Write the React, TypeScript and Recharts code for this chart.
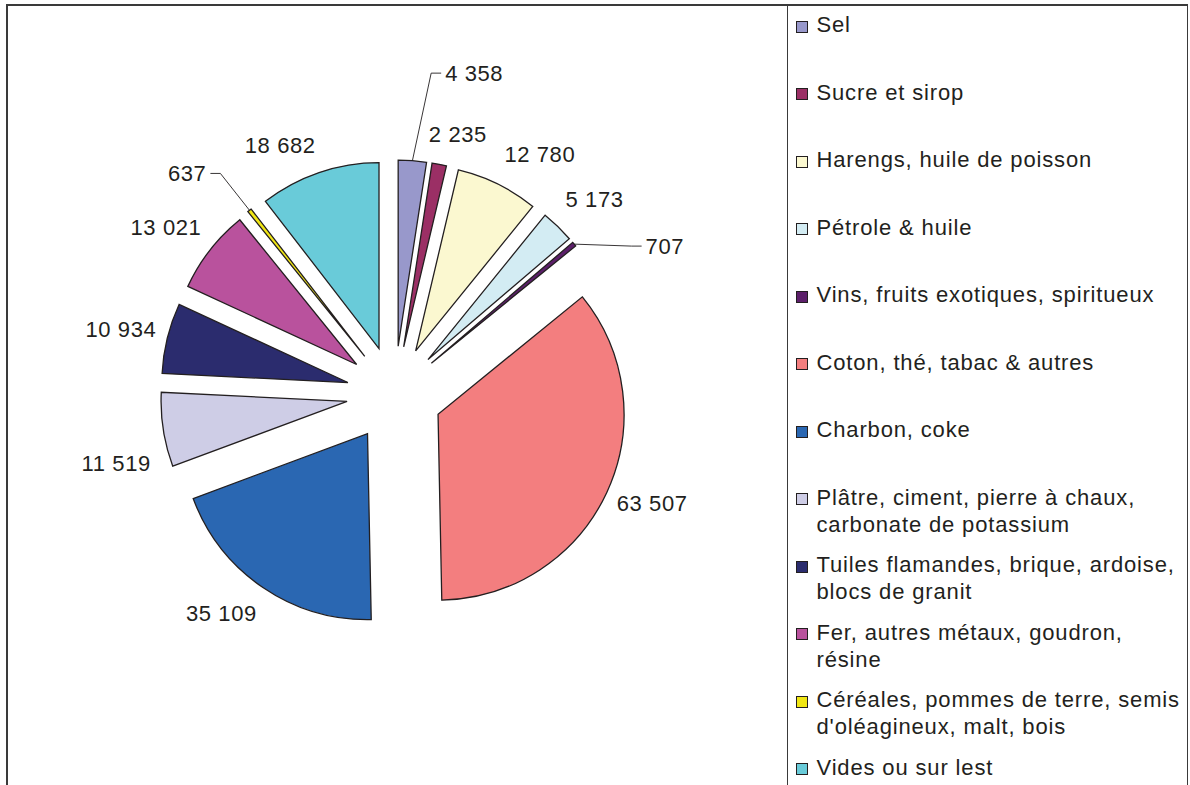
import React from 'react';
import { PieChart, Pie, Sector } from 'recharts';

// ---- data ----
const legendLines: string[][] = [
  ['Sel'],
  ['Sucre et sirop'],
  ['Harengs, huile de poisson'],
  ['Pétrole & huile'],
  ['Vins, fruits exotiques, spiritueux'],
  ['Coton, thé, tabac & autres'],
  ['Charbon, coke'],
  ['Plâtre, ciment, pierre à chaux,', 'carbonate de potassium'],
  ['Tuiles flamandes, brique, ardoise,', 'blocs de granit'],
  ['Fer, autres métaux, goudron,', 'résine'],
  ['Céréales, pommes de terre, semis', "d'oléagineux, malt, bois"],
  ['Vides ou sur lest'],
];
const categories = legendLines.map((l) => l.join(' '));
const tonnages = [4358, 2235, 12780, 5173, 707, 63507, 35109, 11519, 10934, 13021, 637, 18682];
const colors = [
  '#9898CB', '#9B2F65', '#FBF8D0', '#D3ECF3', '#5C1F6A', '#F37E7F',
  '#2A67B2', '#CECDE6', '#2B2C6E', '#B9529D', '#F0E614', '#69CBD9',
];

// ---- label layout (style) ----
const LABEL_ANGLE_SHIFT = [2.5, 3.3, 6.2, 1.9, 9.5, -2.2, 4.8, -6.2, -0.75, -2.35, 0, -7.1];
const LABEL_RADIUS = [275, 219, 232, 231, 232, 232, 232, 239, 233, 234.5, 233, 226];
const LABEL_LEADER = [true, false, false, false, true, false, false, false, false, false, true, false];

const EXPLODE = 48;
const RADIUS = 186;
const INK = '#231F20';
const FONT = "'Liberation Sans', Arial, Helvetica, sans-serif";
const RAD = Math.PI / 180;

const data = categories.map((name, i) => ({ name, value: tonnages[i] }));

const formatValue = (v: number) => String(v).replace(/\B(?=(\d{3})+(?!\d))/g, ' ');

const polar = (cx: number, cy: number, r: number, a: number) => ({
  x: cx + r * Math.cos(a * RAD),
  y: cy - r * Math.sin(a * RAD),
});

const renderSlice = (props: any) => {
  const { cx, cy, midAngle, startAngle, endAngle, outerRadius, index, value } = props;
  const sc = polar(cx, cy, EXPLODE, midAngle);
  const ang = midAngle - LABEL_ANGLE_SHIFT[index];
  const p = polar(sc.x, sc.y, LABEL_RADIUS[index], ang);
  const text = formatValue(value);
  let label: React.ReactNode;
  if (LABEL_LEADER[index]) {
    const a = polar(sc.x, sc.y, outerRadius, midAngle);
    const right = Math.cos(ang * RAD) >= 0;
    const tail = right ? 10 : -10;
    const tx = p.x + tail + (right ? 4 : -4);
    label = (
      <g>
        <polyline
          points={`${a.x},${a.y} ${p.x},${p.y} ${p.x + tail},${p.y}`}
          fill="none"
          stroke={INK}
          strokeWidth={0.9}
        />
        <text
          x={tx}
          y={p.y}
          textAnchor={right ? 'start' : 'end'}
          dominantBaseline="central"
          fontFamily={FONT}
          fontSize={22}
          letterSpacing={0.6}
          fill={INK}
        >
          {text}
        </text>
      </g>
    );
  } else {
    label = (
      <text
        x={p.x}
        y={p.y}
        textAnchor="middle"
        dominantBaseline="central"
        fontFamily={FONT}
        fontSize={22}
        letterSpacing={0.6}
        fill={INK}
      >
        {text}
      </text>
    );
  }
  return (
    <g>
      <Sector
        cx={sc.x}
        cy={sc.y}
        innerRadius={0}
        outerRadius={outerRadius}
        startAngle={startAngle}
        endAngle={endAngle}
        fill={colors[index]}
        stroke={INK}
        strokeWidth={1.3}
      />
      {label}
    </g>
  );
};

const BORDER = '#3a3a3a';

export default function App() {
  return (
    <div
      style={{
        position: 'fixed',
        left: 0,
        top: 0,
        width: 1190,
        height: 785,
        overflow: 'hidden',
        background: '#ffffff',
        fontFamily: FONT,
      }}
    >
      <div style={{ position: 'absolute', left: 6, top: 4, width: 1182, height: 1.5, background: BORDER }} />
      <div style={{ position: 'absolute', left: 6, top: 4, width: 1.5, height: 790, background: BORDER }} />
      <div style={{ position: 'absolute', left: 1186.5, top: 4, width: 1.5, height: 790, background: BORDER }} />
      <div style={{ position: 'absolute', left: 786.5, top: 4, width: 1.5, height: 790, background: BORDER }} />

      <div style={{ position: 'absolute', left: 0, top: 0 }}>
        <PieChart width={787} height={785} margin={{ top: 0, right: 0, bottom: 0, left: 0 }}>
          <Pie
            data={data}
            dataKey="value"
            nameKey="name"
            cx={394.5}
            cy={394}
            innerRadius={0}
            outerRadius={RADIUS}
            startAngle={90}
            endAngle={-270}
            fill="none"
            stroke="none"
            label={renderSlice}
            labelLine={false}
            isAnimationActive={false}
          />
        </PieChart>
      </div>

      {legendLines.map((lines, i) => {
        const baseline = 32.3 + 67.5 * i;
        return (
          <React.Fragment key={categories[i]}>
            <div
              style={{
                position: 'absolute',
                left: 796,
                top: baseline - 11.8,
                width: 12,
                height: 12,
                boxSizing: 'border-box',
                border: `1.3px solid ${INK}`,
                background: colors[i],
              }}
            />
            <div
              style={{
                position: 'absolute',
                left: 816.5,
                top: baseline - 21.1,
                fontSize: 22,
                lineHeight: '27px',
                letterSpacing: 0.85,
                color: INK,
                whiteSpace: 'nowrap',
              }}
            >
              {lines.map((l) => (
                <div key={l}>{l}</div>
              ))}
            </div>
          </React.Fragment>
        );
      })}
    </div>
  );
}
